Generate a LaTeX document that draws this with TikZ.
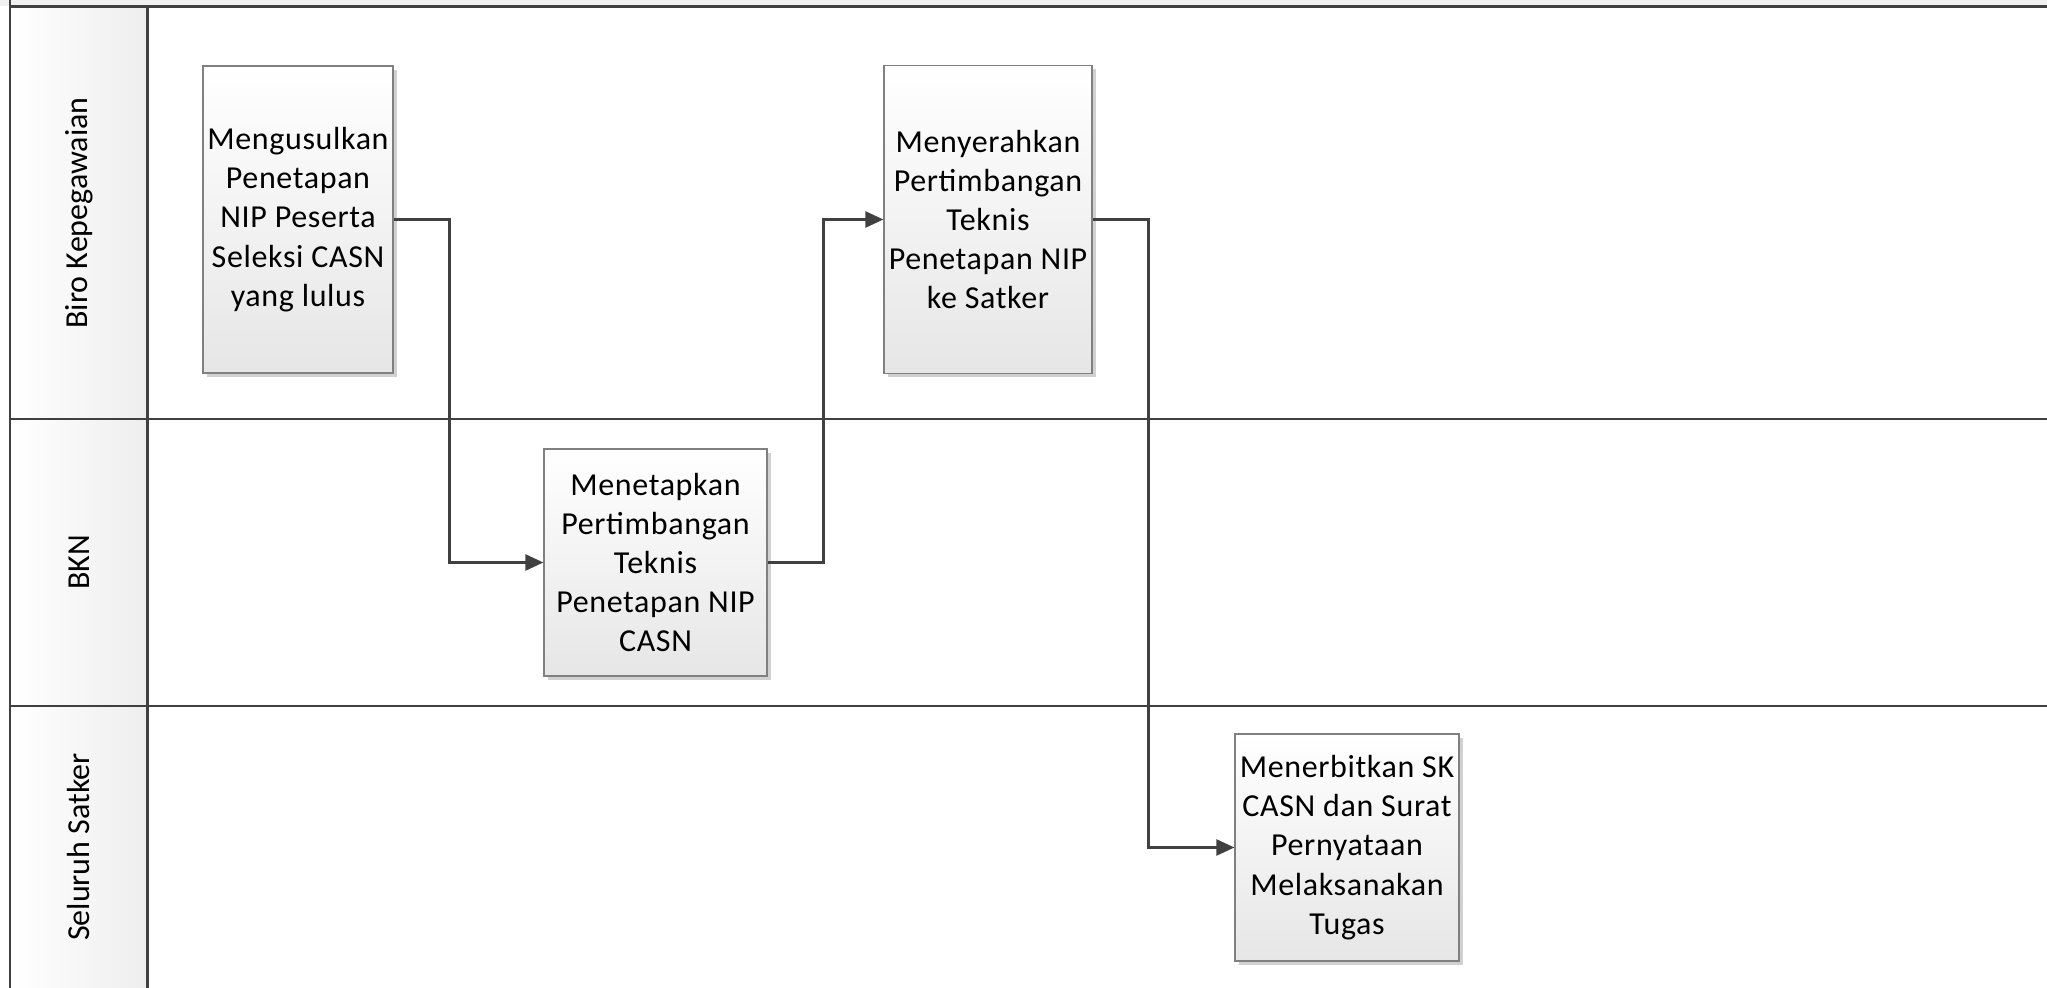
\documentclass[tikz,border=0pt]{standalone}
\usepackage{fontspec}
\setmainfont{Carlito}
\usetikzlibrary{arrows.meta,shadows,calc}
\definecolor{lanecol}{HTML}{404040}
\definecolor{boxborder}{HTML}{808080}
\definecolor{hdrgray}{HTML}{F0F0F0}
\definecolor{labgray}{HTML}{EEEEEE}
\definecolor{boxbot}{HTML}{E6E6E6}
\begin{document}
\begin{tikzpicture}[x=0.5pt,y=-0.5pt,
  stepbox/.style={draw=boxborder, line width=0.6pt, top color=white, bottom color=boxbot,
    align=center, font=\fontsize{16}{19.6}\selectfont\addfontfeature{LetterSpace=2}, inner sep=1pt,
    drop shadow={shadow xshift=2pt, shadow yshift=-2pt, opacity=0.18, fill=black}},
  conn/.style={draw=lanecol, line width=1.2pt, -{Triangle[length=9pt,width=8pt]}},
  lane/.style={draw=lanecol, line width=1.3pt},
  lanelabel/.style={rotate=90, font=\fontsize{16}{19.6}\selectfont}]
\useasboundingbox (0,0) rectangle (2047,988);
\fill[hdrgray] (0,0) rectangle (2047,6.5);
\shade[left color=white, right color=labgray] (10,6.5) rectangle (147.5,988);
% lane lines
\draw[lane] (10,6.5) -- (2047,6.5);
\draw[lane] (10,419) -- (2047,419);
\draw[lane] (10,706) -- (2047,706);
\draw[lane] (10,0) -- (10,988);
\draw[lane] (147.5,6.5) -- (147.5,988);
% lane labels
\node[lanelabel] (l1) at (79,213) {Biro Kepegawaian};
\node[lanelabel] (l2) at (79,562.5) {BKN};
\node[lanelabel] (l3) at (79,847) {Seluruh Satker};
% steps
\node[stepbox, minimum width=95pt, minimum height=153.5pt] (b1) at (298,219.5)
  {Mengusulkan\\Penetapan\\NIP Peserta\\Seleksi CASN\\yang lulus};
\node[stepbox, minimum width=111.5pt, minimum height=113.5pt] (b2) at (655.5,562.5)
  {Menetapkan\\Pertimbangan\\Teknis\\Penetapan NIP\\CASN};
\node[stepbox, minimum width=104pt, minimum height=154pt] (b3) at (988,219.5)
  {Menyerahkan\\Pertimbangan\\Teknis\\Penetapan NIP\\ke Satker};
\node[stepbox, minimum width=112pt, minimum height=113.5pt] (b4) at (1347,847.5)
  {Menerbitkan SK\\CASN dan Surat\\Pernyataan\\Melaksanakan\\Tugas};
% connectors
\draw[conn] (b1.east) -- ++(56,0) |- (b2.west);
\draw[conn] (b2.east) -- ++(56,0) |- (b3.west);
\draw[conn] (b3.east) -- ++(56,0) |- (b4.west);
\end{tikzpicture}
\end{document}
